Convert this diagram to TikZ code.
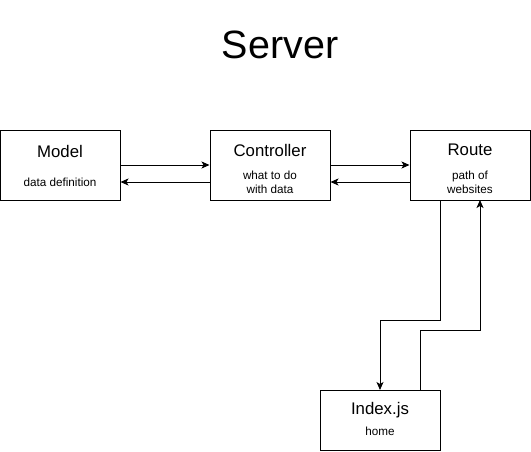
\documentclass[tikz,border=0pt]{standalone}
\usepackage{fontspec}
\setmainfont{Liberation Sans}
\usetikzlibrary{arrows.meta}
\begin{document}
\begin{tikzpicture}[x=1pt,y=-1pt,
  box/.style={draw,line width=1pt,minimum width=120pt,minimum height=70pt,inner sep=0pt},
  conn/.style={line width=1pt,-{Stealth[length=8pt,width=7pt,inset=2pt]}},
  head/.style={font=\fontsize{16.8}{19}\selectfont},
  sub/.style={font=\fontsize{11.7}{14}\selectfont,align=center}]
\useasboundingbox (0,0) rectangle (531,451);
% title
\node (title) at (280,45) {\fontsize{39.5}{44}\selectfont Server};
% boxes
\node[box] (model) at (60,165) {};
\node[box] (ctrl) at (270,165) {};
\node[box] (route) at (470,165) {};
\node[box,minimum height=60pt] (index) at (380,420) {};
% box texts
\node[head] (modelT) at (60,151) {Model};
\node[sub] (modelS) at (60,182) {data definition};
\node[head] (ctrlT) at (270,150) {Controller};
\node[sub] (ctrlS) at (270,182) {what to do\\with data};
\node[head] (routeT) at (470,150) {Route};
\node[sub] (routeS) at (470,182) {path of\\websites};
\node[head] (indexT) at (380,410) {Index.js};
\node[sub] (indexS) at (380,431) {home};
% horizontal connectors
\draw[conn] (model.east |- 0,165) -- (ctrl.west |- 0,165);
\draw[conn] (ctrl.west |- 0,182) -- (model.east |- 0,182);
\draw[conn] (ctrl.east |- 0,165) -- (route.west |- 0,165);
\draw[conn] (route.west |- 0,182) -- (ctrl.east |- 0,182);
% vertical connectors between Route and Index.js
\coordinate (r1) at (440,200);
\coordinate (r2) at (480,200);
\coordinate (i1) at (380,390);
\coordinate (i2) at (420,390);
\draw[conn] (r1) -- (440,320) -- (380,320) -- (i1);
\draw[conn] (i2) -- (420,330) -- (480,330) -- (r2);
\end{tikzpicture}
\end{document}
